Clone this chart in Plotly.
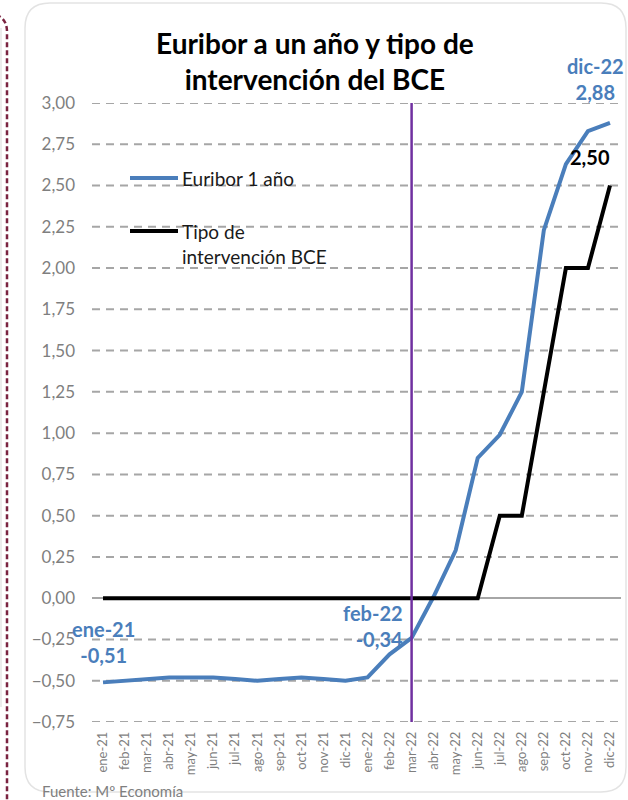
import plotly.graph_objects as go

# Months (Spanish abbreviations), Jan 2021 - Dec 2022
months = ["ene-21", "feb-21", "mar-21", "abr-21", "may-21", "jun-21",
          "jul-21", "ago-21", "sep-21", "oct-21", "nov-21", "dic-21",
          "ene-22", "feb-22", "mar-22", "abr-22", "may-22", "jun-22",
          "jul-22", "ago-22", "sep-22", "oct-22", "nov-22", "dic-22"]

# 12-month Euribor (%)
euribor = [-0.51, -0.50, -0.49, -0.48, -0.48, -0.48,
           -0.49, -0.50, -0.49, -0.48, -0.49, -0.50,
           -0.48, -0.34, -0.24, 0.01, 0.29, 0.85,
           0.99, 1.25, 2.23, 2.63, 2.83, 2.88]

# ECB main refinancing rate (%)
bce = [0.0] * 18 + [0.50, 0.50, 1.25, 2.00, 2.00, 2.50]

y_ticks = [3.00, 2.75, 2.50, 2.25, 2.00, 1.75, 1.50, 1.25, 1.00, 0.75,
           0.50, 0.25, 0.00, -0.25, -0.50, -0.75]

BLUE = "#4A7EBB"
BLACK = "#000000"
PURPLE = "#7030A0"
GRID = "#A6A6A6"
TXT_GRAY = "#7F7F7F"
FONT = "Lato"

W, H = 628, 800
L, R, T, B = 92, 7, 103, 78
PW, PH = W - L - R, H - T - B


def px(x):
    return (x - L) / PW


def py(y):
    return (H - B - y) / PH


def es(v):
    return f"{v:.2f}".replace(".", ",")


fig = go.Figure()
fig.add_trace(go.Scatter(x=months, y=euribor, mode="lines", name="Euribor 1 año",
                         line=dict(color=BLUE, width=4), showlegend=False))
fig.add_trace(go.Scatter(x=months, y=bce, mode="lines", name="Tipo de intervención BCE",
                         line=dict(color=BLACK, width=4), showlegend=False))

# dashed horizontal gridlines at every labelled value (zero gets a solid line)
shapes = [
    dict(type="line", xref="paper", yref="y", layer="below",
         x0=0, x1=1, y0=v, y1=v,
         line=dict(color=GRID, width=2, dash="8px,6px"))
    for v in y_ticks if v != 0
]

shapes += [
    # outer rounded frame
    dict(type="path", xref="paper", yref="paper", layer="below",
         path=(f"M {px(50)},{py(3)} L {px(601)},{py(3)} "
               f"Q {px(626)},{py(3)} {px(626)},{py(28)} L {px(626)},{py(767)} "
               f"Q {px(626)},{py(792)} {px(601)},{py(792)} L {px(50)},{py(792)} "
               f"Q {px(25)},{py(792)} {px(25)},{py(767)} L {px(25)},{py(28)} "
               f"Q {px(25)},{py(3)} {px(50)},{py(3)} Z"),
         line=dict(color="#E3E3E3", width=1.5), fillcolor="rgba(0,0,0,0)"),
    # neighbouring panel border
    dict(type="path", xref="paper", yref="paper", layer="below",
         path=(f"M {px(-12)},{py(14)} Q {px(7)},{py(14)} {px(7)},{py(32)} "
               f"L {px(7)},{py(805)}"),
         line=dict(color="#7A2340", width=2.5, dash="5px,3px")),
    dict(type="line", xref="paper", yref="paper", layer="below",
         x0=px(1), x1=px(1), y0=py(28), y1=py(707),
         line=dict(color="#D9D9D9", width=1)),
    # reference month marker
    dict(type="line", xref="x", yref="paper", x0="mar-22", x1="mar-22", y0=0, y1=1,
         line=dict(color=PURPLE, width=2.5)),
    # legend samples
    dict(type="line", xref="paper", yref="paper", x0=px(130), x1=px(178),
         y0=py(178), y1=py(178), line=dict(color=BLUE, width=4)),
    dict(type="line", xref="paper", yref="paper", x0=px(130), x1=px(178),
         y0=py(231), y1=py(231), line=dict(color=BLACK, width=4)),
]

annotations = [
    # title
    dict(xref="paper", yref="paper", x=px(315), y=py(61), xanchor="center",
         yanchor="middle", text="<b>Euribor a un año y tipo de<br>intervención del BCE</b>",
         showarrow=False, font=dict(size=28, color="#000000", family=FONT)),
    dict(xref="paper", yref="paper", x=px(180), y=py(178), xanchor="left",
         yanchor="middle", text="Euribor 1 año", showarrow=False,
         font=dict(size=19, color="#1A1A1A", family=FONT)),
    dict(xref="paper", yref="paper", x=px(180), y=py(218), xanchor="left",
         yanchor="top", align="left", text="Tipo de<br>intervención BCE",
         showarrow=False, font=dict(size=19, color="#1A1A1A", family=FONT)),
    # value labels
    dict(x=months[0], y=euribor[0], text=f"ene-21<br>{es(euribor[0])}",
         showarrow=False, yanchor="bottom", xanchor="center", xshift=0, yshift=13,
         font=dict(size=20, color=BLUE, family=FONT, weight="bold")),
    dict(x=months[13], y=euribor[13], text=f"feb-22<br>{es(euribor[13])}",
         showarrow=False, yanchor="bottom", xanchor="right", xshift=15, yshift=1,
         align="right",
         font=dict(size=20, color=BLUE, family=FONT, weight="bold")),
    dict(x=months[-1], y=euribor[-1], text=f"dic-22<br>{es(euribor[-1])}",
         showarrow=False, yanchor="bottom", xanchor="center", xshift=-14, yshift=17,
         font=dict(size=20, color=BLUE, family=FONT, weight="bold")),
    dict(x=months[-1], y=bce[-1], text=es(bce[-1]),
         showarrow=False, yanchor="bottom", xanchor="center", xshift=-20, yshift=15,
         font=dict(size=20, color=BLACK, family=FONT, weight="bold")),
    # source
    dict(xref="paper", yref="paper", x=px(40), y=py(791), xanchor="left",
         yanchor="middle", text="Fuente: Mº Economía", showarrow=False,
         font=dict(size=15, color=TXT_GRAY, family=FONT)),
]

fig.update_layout(
    width=W, height=H, autosize=False,
    margin=dict(l=L, r=R, t=T, b=B),
    paper_bgcolor="white", plot_bgcolor="white",
    separators=",.",
    font=dict(family=FONT, color=TXT_GRAY),
    xaxis=dict(type="category", categoryorder="array", categoryarray=months,
               range=[-0.5, len(months) - 0.5], tickangle=-90,
               tickfont=dict(size=13, color=TXT_GRAY, family=FONT),
               showgrid=False, showline=False, zeroline=False, ticks="",
               ticklabelstandoff=6),
    yaxis=dict(range=[-0.75, 3.0], tickvals=y_ticks, tickformat=".2f",
               tickfont=dict(size=17, color=TXT_GRAY, family=FONT),
               showgrid=False,
               zeroline=True, zerolinecolor=GRID, zerolinewidth=2,
               showline=False, ticks="", ticklabelstandoff=16),
    shapes=shapes,
    annotations=annotations,
)

fig.write_html("out.html")
